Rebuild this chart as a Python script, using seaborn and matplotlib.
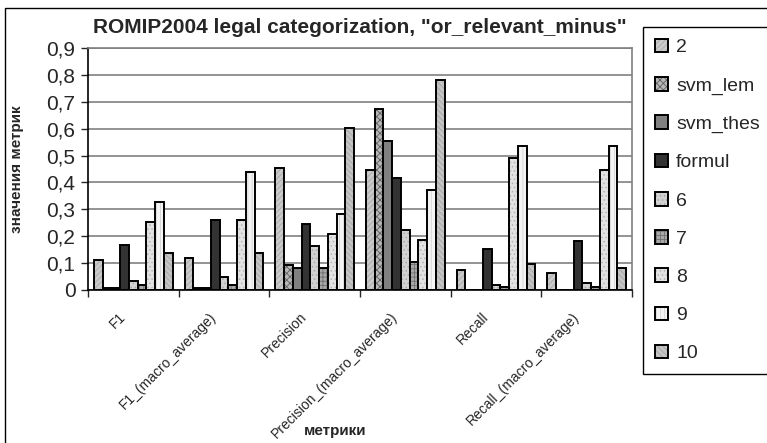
import matplotlib
matplotlib.use("Agg")
import matplotlib.pyplot as plt
import matplotlib.colors as mcolors
import matplotlib.transforms as mtransforms
from matplotlib.patches import Rectangle
from matplotlib.ticker import FixedLocator, FuncFormatter
import seaborn as sns
import pandas as pd

# Data
metrics = ["F1", "F1_(macro_average)", "Precision", "Precision_(macro_average)",
           "Recall", "Recall_(macro_average)"]
methods = ["2", "svm_lem", "svm_thes", "formul", "6", "7", "8", "9", "10"]

vals_2 = [0.11, 0.118, 0.453, 0.446, 0.073, 0.065]
vals_svm_lem = [0.006, 0.006, 0.093, 0.672, 0.0, 0.0]
vals_svm_thes = [0.006, 0.006, 0.081, 0.556, 0.0, 0.0]
vals_formul = [0.168, 0.259, 0.244, 0.416, 0.154, 0.184]
vals_6 = [0.035, 0.05, 0.162, 0.222, 0.019, 0.027]
vals_7 = [0.019, 0.02, 0.081, 0.103, 0.012, 0.01]
vals_8 = [0.253, 0.259, 0.207, 0.185, 0.49, 0.445]
vals_9 = [0.326, 0.438, 0.281, 0.371, 0.535, 0.535]
vals_10 = [0.139, 0.139, 0.602, 0.782, 0.095, 0.081]

series = [vals_2, vals_svm_lem, vals_svm_thes, vals_formul, vals_6,
          vals_7, vals_8, vals_9, vals_10]

rows = []
for name, vals in zip(methods, series):
    for m, v in zip(metrics, vals):
        rows.append({"metric": m, "method": name, "value": v})
df = pd.DataFrame(rows)

# grey fills and patterns imitating the old Excel look
fills = ["#cacaca", "#b8b8b8", "#808080", "#333333", "#d2d2d2",
         "#a8a8a8", "#e2e2e2", "#f4f4f4", "#c4c4c4"]
hatches = ["//////", "xxxxx", "", "", "....", "++++", "....", "||||", "\\\\\\\\\\\\"]
hatch_cols = ["#a8a8a8", "#606060", "#808080", "#333333", "#a8a8a8",
              "#707070", "#b4b4b4", "#d4d4d4", "#a4a4a4"]

sns.set_style("white")
plt.rcParams["font.family"] = ["Liberation Sans", "DejaVu Sans"]
plt.rcParams["hatch.linewidth"] = 0.6

fig = plt.figure(figsize=(7.67, 4.43), dpi=100)
ax = fig.add_axes([0.1147, 0.3454, 0.824 - 0.1147, 0.8916 - 0.3454])

sns.barplot(data=df, x="metric", y="value", hue="method", order=metrics,
            hue_order=methods, palette=fills, width=0.87, edgecolor="black",
            linewidth=1.4, ax=ax, legend=False)

for cont, h, hc in zip(ax.containers, hatches, hatch_cols):
    for bar in cont:
        bar.set_hatch(h)
        bar._hatch_color = mcolors.to_rgba(hc)

ax.set_ylim(0, 0.9)
ax.set_xlim(-0.5, len(metrics) - 0.5)
ax.set_yticks([i / 10 for i in range(10)])
ax.yaxis.set_major_formatter(FuncFormatter(lambda v, p: ("%g" % round(v, 1)).replace(".", ",")))
ax.tick_params(axis="y", labelsize=15, length=5, width=1, direction="out", left=True, pad=4)
ax.yaxis.grid(True, color="#808080", linewidth=1.2)
ax.set_axisbelow(True)

ax.set_xticks(range(len(metrics)))
ax.set_xticklabels(metrics, rotation=45, ha="right", rotation_mode="anchor", fontsize=10)
ax.tick_params(axis="x", which="major", length=0, pad=14)
shift = mtransforms.ScaledTranslation(-15 / 100, 0, fig.dpi_scale_trans)
for lbl in ax.get_xticklabels():
    lbl.set_transform(lbl.get_transform() + shift)
ax.xaxis.set_minor_locator(FixedLocator([i - 0.5 for i in range(len(metrics) + 1)]))
ax.tick_params(axis="x", which="minor", length=5, width=1, direction="out", bottom=True)

for side in ["left", "bottom"]:
    ax.spines[side].set_color("black")
    ax.spines[side].set_linewidth(1.2)
for side in ["top", "right"]:
    ax.spines[side].set_visible(True)
    ax.spines[side].set_color("#808080")
    ax.spines[side].set_linewidth(1.2)

ax.set_xlabel("метрики", fontsize=11, fontweight="bold")
ax.set_ylabel("значения метрик", fontsize=11, fontweight="bold")
ax.xaxis.set_label_coords(0.455, -0.555)
ax.yaxis.set_label_coords(-0.118, 0.5)

fig.text(93 / 767, 0.939, 'ROMIP2004 legal categorization, "or_relevant_minus"',
         ha="left", va="center", fontsize=15, fontweight="bold", zorder=1)

leg = fig.legend(handles=[c.patches[0] for c in ax.containers], labels=methods,
                 loc="upper left", bbox_to_anchor=(643 / 767, 1 - 27 / 443),
                 fontsize=14, frameon=True, fancybox=False, edgecolor="black",
                 framealpha=1, handlelength=0.7, handleheight=0.7,
                 labelspacing=1.06, handletextpad=0.4, borderpad=0.6,
                 borderaxespad=0)
leg.get_frame().set_linewidth(1)
leg.set_zorder(10)

# outer chart border (right and bottom edges fall outside the picture)
fig.patches.append(Rectangle((5 / 767, -0.1), 1.2, 1.1 - 8 / 443,
                             transform=fig.transFigure, fill=False,
                             edgecolor="black", linewidth=1, zorder=-1))

fig.savefig("out.png", dpi=100)
plt.close(fig)
